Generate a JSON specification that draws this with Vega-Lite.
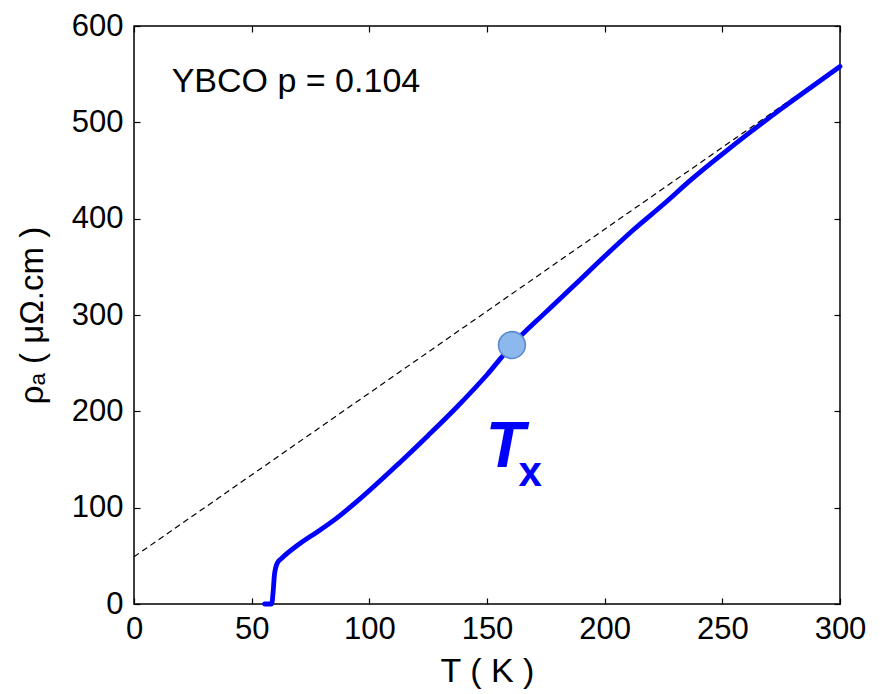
{
  "$schema": "https://vega.github.io/schema/vega-lite/v6.json",
  "width": 706,
  "height": 578,
  "autosize": "none",
  "padding": {"left": 134, "top": 26, "right": 52, "bottom": 90},
  "background": "white",
  "config": {
    "font": "Liberation Sans",
    "view": {"stroke": "#000000", "strokeWidth": 1.5},
    "axis": {
      "grid": false,
      "domain": false,
      "labelFlush": false,
      "tickColor": "#000000",
      "tickSize": -6,
      "tickWidth": 1.2,
      "labelFont": "Liberation Sans",
      "labelFontSize": 31,
      "labelColor": "#000000",
      "titleFont": "Liberation Sans",
      "titleFontWeight": "normal",
      "titleColor": "#000000"
    }
  },
  "datasets": {
    "curve": [
      {"T": 55.5, "rho": 0},
      {"T": 58.5, "rho": 0},
      {"T": 59.2, "rho": 15},
      {"T": 59.7, "rho": 31},
      {"T": 61, "rho": 43},
      {"T": 63, "rho": 48},
      {"T": 69.5, "rho": 61},
      {"T": 78, "rho": 75},
      {"T": 85, "rho": 87},
      {"T": 95, "rho": 107},
      {"T": 113, "rho": 147},
      {"T": 125, "rho": 175},
      {"T": 137, "rho": 204},
      {"T": 150, "rho": 238},
      {"T": 160.6, "rho": 268.8},
      {"T": 175, "rho": 303},
      {"T": 188, "rho": 333},
      {"T": 200, "rho": 361},
      {"T": 212, "rho": 388},
      {"T": 225, "rho": 415},
      {"T": 237, "rho": 441},
      {"T": 250, "rho": 467},
      {"T": 262, "rho": 490},
      {"T": 275, "rho": 514},
      {"T": 288, "rho": 537},
      {"T": 300, "rho": 558}
    ],
    "dashed": [
      {"T": 0, "rho": 49},
      {"T": 300, "rho": 559}
    ],
    "marker": [
      {"T": 160.6, "rho": 268.8}
    ],
    "labels": [
      {"T": 16, "rho": 531, "text": "YBCO p = 0.104"}
    ],
    "tx": [
      {"T": 149.5, "rho": 142.5, "text": "T"}
    ],
    "sub": [
      {"T": 163.4, "rho": 122.7, "text": "x"}
    ]
  },
  "layer": [
    {
      "data": {"name": "dashed"},
      "mark": {"type": "line", "color": "#000000", "strokeWidth": 1.2, "strokeDash": [6, 4]},
      "encoding": {
        "x": {"field": "T", "type": "quantitative", "scale": {"domain": [0, 300], "nice": false, "zero": false},
              "axis": {"orient": "top", "labels": false, "title": null, "values": [0, 50, 100, 150, 200, 250, 300]}},
        "y": {"field": "rho", "type": "quantitative", "scale": {"domain": [0, 600], "nice": false, "zero": false},
              "axis": {"orient": "right", "labels": false, "title": null, "values": [0, 100, 200, 300, 400, 500, 600]}}
      }
    },
    {
      "data": {"name": "curve"},
      "mark": {"type": "line", "color": "#0000ff", "strokeWidth": 4.8, "interpolate": "monotone", "strokeCap": "round", "strokeJoin": "round"},
      "encoding": {
        "x": {"field": "T", "type": "quantitative",
              "axis": {"orient": "bottom", "title": "T ( K )", "titleFontSize": 34, "labelPadding": 16, "titlePadding": 10, "values": [0, 50, 100, 150, 200, 250, 300]}},
        "y": {"field": "rho", "type": "quantitative",
              "axis": {"orient": "left", "title": "ρₐ ( μΩ.cm )", "titleFontSize": 33, "labelPadding": 17, "titlePadding": 22, "values": [0, 100, 200, 300, 400, 500, 600]}}
      }
    },
    {
      "data": {"name": "marker"},
      "mark": {"type": "point", "shape": "circle", "filled": true, "size": 720, "fill": "#8db8ee", "stroke": "#5a8cce", "strokeWidth": 1.6, "opacity": 1},
      "encoding": {
        "x": {"field": "T", "type": "quantitative", "axis": null},
        "y": {"field": "rho", "type": "quantitative", "axis": null}
      }
    },
    {
      "data": {"name": "labels"},
      "mark": {"type": "text", "align": "left", "baseline": "alphabetic", "fontSize": 34, "font": "Liberation Sans", "color": "#000000"},
      "encoding": {
        "x": {"field": "T", "type": "quantitative", "axis": null},
        "y": {"field": "rho", "type": "quantitative", "axis": null},
        "text": {"field": "text"}
      }
    },
    {
      "data": {"name": "tx"},
      "mark": {"type": "text", "align": "left", "baseline": "alphabetic", "fontSize": 64, "font": "Liberation Sans", "fontWeight": "bold", "fontStyle": "italic", "color": "#0000ff"},
      "encoding": {
        "x": {"field": "T", "type": "quantitative", "axis": null},
        "y": {"field": "rho", "type": "quantitative", "axis": null},
        "text": {"field": "text"}
      }
    },
    {
      "data": {"name": "sub"},
      "mark": {"type": "text", "align": "left", "baseline": "alphabetic", "fontSize": 42, "font": "Liberation Sans", "fontWeight": "bold", "color": "#0000ff"},
      "encoding": {
        "x": {"field": "T", "type": "quantitative", "axis": null},
        "y": {"field": "rho", "type": "quantitative", "axis": null},
        "text": {"field": "text"}
      }
    }
  ],
  "resolve": {"axis": {"x": "independent", "y": "independent"}}
}
